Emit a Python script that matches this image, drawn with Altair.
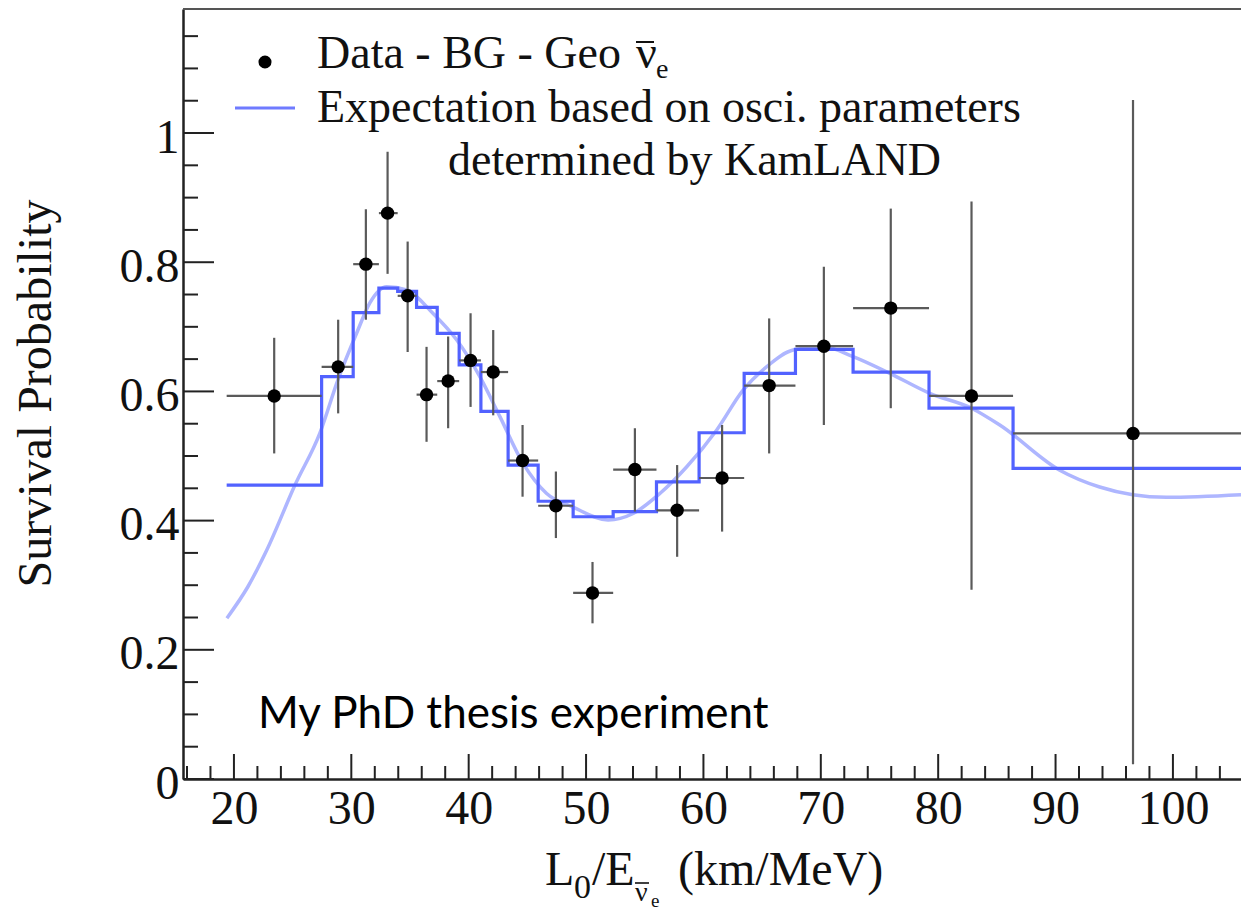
import altair as alt
import pandas as pd

# ---- data -------------------------------------------------------------
# L0/E bin edges (km/MeV); the last bin runs off the right edge of the frame
bin_edges = [19.38, 27.47, 30.16, 32.35, 33.95, 35.56, 37.32, 39.19, 41.04, 43.36,
             45.92, 48.90, 52.31, 56.00, 59.63, 63.47, 67.84, 72.75, 79.22, 86.38, 110.0]
# expected survival probability per bin (histogram)
expected = [0.455, 0.623, 0.722, 0.760, 0.755, 0.730, 0.690, 0.641, 0.569, 0.486,
            0.430, 0.406, 0.414, 0.460, 0.536, 0.628, 0.665, 0.630, 0.574, 0.481]

# measured points: Data - BG - Geo anti-neutrinos
data_x = [23.43, 28.88, 31.24, 33.09, 34.80, 36.41, 38.25, 40.16, 42.09, 44.59,
          47.43, 50.55, 54.16, 57.76, 61.59, 65.60, 70.26, 75.96, 82.84, 96.60]
data_y = [0.593, 0.638, 0.797, 0.876, 0.748, 0.595, 0.616, 0.648, 0.630, 0.493,
          0.423, 0.288, 0.479, 0.416, 0.466, 0.609, 0.670, 0.729, 0.593, 0.535]
err_lo = [0.504, 0.566, 0.711, 0.782, 0.661, 0.522, 0.543, 0.576, 0.563, 0.437,
          0.373, 0.241, 0.414, 0.344, 0.383, 0.504, 0.548, 0.574, 0.293, 0.023]
err_hi = [0.683, 0.711, 0.882, 0.971, 0.832, 0.669, 0.685, 0.721, 0.695, 0.548,
          0.476, 0.336, 0.543, 0.486, 0.548, 0.713, 0.793, 0.883, 0.894, 1.051]

# unbinned oscillation expectation
curve_x = [19.40, 21.20, 22.79, 25.20, 27.33, 28.86, 30.45, 31.58, 33.01, 34.71,
           36.95, 38.97, 40.95, 42.66, 44.62, 46.64, 48.88, 51.88, 54.01, 56.29,
           58.56, 61.12, 63.38, 65.37, 67.64, 70.20, 72.75, 75.88, 79.29, 82.84,
           85.25, 90.36, 93.76, 96.58, 99.45, 105.8]
curve_y = [0.249, 0.298, 0.354, 0.455, 0.536, 0.618, 0.690, 0.737, 0.762, 0.757,
           0.721, 0.680, 0.623, 0.561, 0.489, 0.442, 0.421, 0.401, 0.411, 0.442,
           0.483, 0.540, 0.602, 0.638, 0.664, 0.669, 0.654, 0.628, 0.597, 0.574,
           0.548, 0.478, 0.452, 0.440, 0.436, 0.440]

x_major = [20, 30, 40, 50, 60, 70, 80, 90, 100]
x_minor = [16, 18, 22, 24, 26, 28, 32, 34, 36, 38, 42, 44, 46, 48, 52, 54, 56, 58,
           62, 64, 66, 68, 72, 74, 76, 78, 82, 84, 86, 88, 92, 94, 96, 98, 102, 104]
y_major = [0, 0.2, 0.4, 0.6, 0.8, 1.0]
y_minor = [0.05, 0.1, 0.15, 0.25, 0.3, 0.35, 0.45, 0.5, 0.55, 0.65, 0.7, 0.75,
           0.85, 0.9, 0.95, 1.05, 1.1, 1.15]

# ---- layout -----------------------------------------------------------
W, H = 1058, 770
SERIF = "Liberation Serif"
INK = "#111111"
ERR = "#5a5a5a"
STEP = "#5262ff"
SMOOTH = "#aeb6ff"

xs = alt.Scale(domain=[15.66, 105.8], nice=False, zero=False)
ys = alt.Scale(domain=[0, 1.192], nice=False, zero=False)

pts = pd.DataFrame({
    "x": data_x, "y": data_y, "lo": err_lo, "hi": err_hi,
    "xl": bin_edges[:-1], "xh": bin_edges[1:],
})
hist = pd.DataFrame({"x": bin_edges, "y": expected + [expected[-1]]})
smooth = pd.DataFrame({"x": curve_x, "y": curve_y})

x_axis = alt.Axis(values=x_major, ticks=False, grid=False, title=None,
                  domain=True, domainColor="#222222", domainWidth=2.5,
                  labelFont=SERIF, labelFontSize=48, labelColor=INK,
                  labelPadding=6, labelOverlap=False, labelFlush=False)
y_axis = alt.Axis(values=y_major, format="~g", ticks=False, grid=False,
                  domain=True, domainColor="#222222", domainWidth=2.5,
                  labelFont=SERIF, labelFontSize=48, labelColor=INK,
                  labelPadding=4, labelOffset=5, labelOverlap=False, labelFlush=False,
                  title="Survival Probability", titleFont=SERIF, titleFontSize=48,
                  titleFontWeight="normal", titleColor=INK, titleAngle=270,
                  titleX=-133, titleY=384, titleAlign="center",
                  titleBaseline="alphabetic")


def X(field):
    return alt.X(field, scale=xs, axis=x_axis)


def Y(field):
    return alt.Y(field, scale=ys, axis=y_axis)


smooth_line = alt.Chart(smooth).mark_line(
    color=SMOOTH, strokeWidth=3.5, interpolate="monotone", clip=True
).encode(x=X("x:Q"), y=Y("y:Q"))

hist_line = alt.Chart(hist).mark_line(
    color=STEP, strokeWidth=3.2, interpolate="step-after", clip=True
).encode(x=X("x:Q"), y=Y("y:Q"))

yerr = alt.Chart(pts).mark_rule(color=ERR, strokeWidth=2.2, clip=True).encode(
    x=X("x:Q"), y=Y("lo:Q"), y2="hi:Q")
xerr = alt.Chart(pts).mark_rule(color=ERR, strokeWidth=2.2, clip=True).encode(
    x=X("xl:Q"), x2="xh:Q", y=Y("y:Q"))
dots = alt.Chart(pts).mark_point(filled=True, color="#000000", size=180, opacity=1,
                                 shape="circle").encode(x=X("x:Q"), y=Y("y:Q"))


# inward-pointing frame ticks
def xticks(vals, length):
    return alt.Chart(pd.DataFrame({"x": vals})).mark_rule(
        color="#222222", strokeWidth=2).encode(
        x=X("x:Q"), y=alt.value(H), y2=alt.value(H - length))


def yticks(vals, length):
    return alt.Chart(pd.DataFrame({"y": vals})).mark_rule(
        color="#222222", strokeWidth=2).encode(
        y=Y("y:Q"), x=alt.value(0), x2=alt.value(length))


top_border = alt.Chart(pd.DataFrame({"v": [0]})).mark_rule(
    color="#555555", strokeWidth=2).encode(
    x=alt.value(0), x2=alt.value(W), y=alt.value(0))


def label(txt, x, y, size, font=SERIF, align="left", color=INK):
    return alt.Chart(pd.DataFrame({"t": [txt]})).mark_text(
        font=font, fontSize=size, align=align, baseline="alphabetic", color=color
    ).encode(x=alt.value(x), y=alt.value(y), text="t:N")


def bar(x1, x2, y, width=2):
    # short overbar used for the anti-neutrino symbol
    return alt.Chart(pd.DataFrame({"v": [0]})).mark_rule(
        color=INK, strokeWidth=width).encode(
        x=alt.value(x1), x2=alt.value(x2), y=alt.value(y))


# legend
leg_dot = alt.Chart(pd.DataFrame({"v": [0]})).mark_point(
    filled=True, color="#000000", size=170, opacity=1, shape="circle").encode(
    x=alt.value(82), y=alt.value(53))
leg_line = alt.Chart(pd.DataFrame({"v": [0]})).mark_rule(
    color="#6f7bff", strokeWidth=3).encode(
    x=alt.value(52), x2=alt.value(112), y=alt.value(99))

texts = [
    label("Data - BG - Geo", 134, 59, 46),
    label("\u03bd", 453, 59, 46),
    bar(453, 471, 33),
    label("e", 473, 69, 28),
    label("Expectation based on osci. parameters", 134, 113, 46),
    label("determined by KamLAND", 265, 166, 46),
    label("My PhD thesis experiment", 75, 719, 44, font="Lato", color="#000000"),
    # x-axis title: L0/E(anti-nu e) (km/MeV)
    label("L", 362, 876, 48),
    label("0", 391, 889, 34),
    label("/E", 409, 876, 48),
    label("\u03bd", 452, 892, 28),
    bar(452, 466, 874, 1.6),
    label("e", 468, 898, 19),
    label("(km/MeV)", 495, 876, 48),
]

chart = alt.layer(
    smooth_line, hist_line, yerr, xerr, dots,
    xticks(x_major, 25), xticks(x_minor, 13),
    yticks(y_major, 31), yticks(y_minor, 15),
    top_border, leg_dot, leg_line, *texts,
).properties(
    width=W, height=H,
    padding={"left": 183, "top": 9, "right": 0, "bottom": 129},
    autosize=alt.AutoSizeParams(type="none"),
    background="white",
).configure_view(stroke=None)

chart.save("out.html", embed_options={"renderer": "svg", "actions": False})
